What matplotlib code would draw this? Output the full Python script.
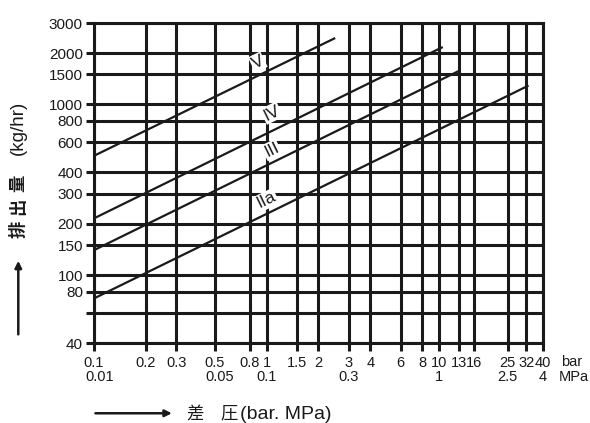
import numpy as np
import matplotlib.pyplot as plt
from matplotlib.patches import FancyArrowPatch

plt.rcParams['font.family'] = ['Liberation Sans', 'Noto Sans CJK JP', 'DejaVu Sans']

# discharge capacity curves (straight lines on log-log paper)
curve_names = ['V', 'IV', 'III', 'IIa']
dp_start = [0.1, 0.1, 0.1, 0.1]
dp_end = [2.5, 10.5, 13.0, 33.0]
flow_start = [500, 215, 140, 73]
flow_end = [2450, 2170, 1570, 1290]

# where the curve names sit
label_dp = [0.89, 1.07, 1.07, 1.0]
label_flow = [1770, 890, 541, 275]

x_ticks = [0.1, 0.2, 0.3, 0.5, 0.8, 1, 1.5, 2, 3, 4, 6, 8, 10, 13, 16, 25, 32, 40]
x_labels = ['0.1', '0.2', '0.3', '0.5', '0.8', '1', '1.5', '2', '3', '4', '6', '8',
            '10', '13', '16', '25', '32', '40']
mpa_ticks = [0.1, 0.5, 1, 3, 10, 25, 40]
mpa_labels = ['0.01', '0.05', '0.1', '0.3', '1', '2.5', '4']

y_ticks = [40, 60, 80, 100, 150, 200, 300, 400, 600, 800, 1000, 1500, 2000, 3000]
y_labels = ['40', '', '80', '100', '150', '200', '300', '400', '600', '800',
            '1000', '1500', '2000', '3000']

ink = '#1a1a1a'

fig = plt.figure(figsize=(5.9, 4.23), dpi=100)
ax = fig.add_axes([0.1593, 0.1891, 0.761, 0.7565])

ax.set_xscale('log')
ax.set_yscale('log')
ax.set_xlim(0.1, 40)
ax.set_ylim(40, 3000)

grid_w = 2.2
for x in x_ticks:
    ax.axvline(x, color=ink, lw=grid_w, zorder=1)
for y in y_ticks:
    ax.axhline(y, color=ink, lw=grid_w, zorder=1)

for s in ax.spines.values():
    s.set_linewidth(grid_w)
    s.set_color(ink)

ax.minorticks_off()
ax.set_xticks(x_ticks)
ax.set_xticklabels(x_labels)
ax.set_yticks(y_ticks)
ax.set_yticklabels(y_labels)
ax.tick_params(axis='both', length=6, width=grid_w, color=ink,
               labelsize=11, pad=2, labelcolor=ink)
ax.tick_params(axis='x', labelsize=10.5, pad=3)

for i in range(len(curve_names)):
    ax.plot([dp_start[i], dp_end[i]], [flow_start[i], flow_end[i]],
            color=ink, lw=1.6, solid_capstyle='butt', zorder=3)
    ax.text(label_dp[i], label_flow[i], curve_names[i], fontsize=12.5,
            rotation=26, ha='center', va='center', zorder=4, color=ink,
            bbox=dict(facecolor='white', edgecolor='none', pad=0.8))

# second row of x labels in MPa
trans = ax.get_xaxis_transform()
for x, lab in zip(mpa_ticks, mpa_labels):
    shift = 4 if x in (0.1, 0.5) else 0
    ax.annotate(lab, (x, -0.105), xycoords=trans, xytext=(shift, 0),
                textcoords='offset points', ha='center', va='center',
                fontsize=10.5, color=ink)
ax.text(1.04, -0.058, 'bar', transform=ax.transAxes, ha='left', va='center',
        fontsize=10.5, color=ink)
ax.text(1.035, -0.105, 'MPa', transform=ax.transAxes, ha='left', va='center',
        fontsize=10.5, color=ink)

# y title, written piece by piece down the left edge, with arrow
for ch, yy in zip(['排', '出', '量'], [0.457, 0.512, 0.567]):
    fig.text(0.031, yy, ch, rotation=90, ha='center', va='center',
             fontsize=12.5, color=ink, family='Noto Sans CJK JP',
             fontweight='bold')
fig.text(0.031, 0.698, '(kg/hr)', rotation=90, ha='center', va='center',
         fontsize=13.5, color=ink)
fig.add_artist(FancyArrowPatch(
    (0.031, 0.203), (0.031, 0.39), transform=fig.transFigure,
    arrowstyle='-|>', mutation_scale=10, lw=1.8, color=ink))

# x title with arrow
fig.text(0.331, 0.023, '差', ha='center', va='center', fontsize=12.5,
         color=ink, family='Noto Sans CJK JP')
fig.text(0.389, 0.023, '圧', ha='center', va='center', fontsize=12.5,
         color=ink, family='Noto Sans CJK JP')
fig.text(0.407, 0.021, '(bar. MPa)', ha='left', va='center', fontsize=14,
         color=ink)
fig.add_artist(FancyArrowPatch(
    (0.157, 0.023), (0.296, 0.023), transform=fig.transFigure,
    arrowstyle='-|>', mutation_scale=10, lw=1.8, color=ink))

fig.savefig('out.png', dpi=100)
